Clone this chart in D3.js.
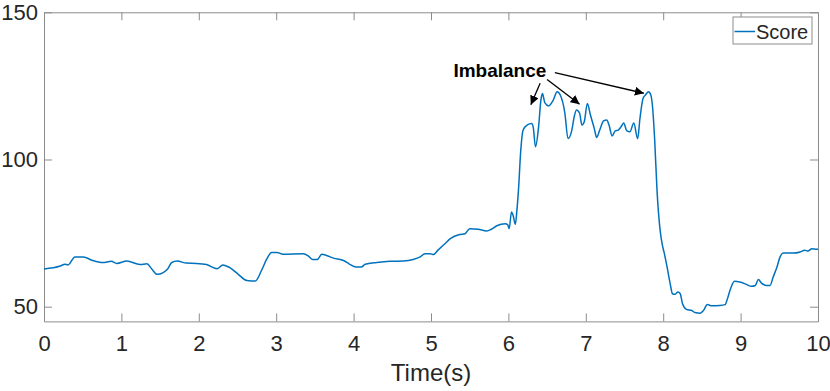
<!DOCTYPE html>
<html>
<head>
<meta charset="utf-8">
<script src="https://cdn.jsdelivr.net/npm/d3@7"></script>
<style>
  html, body { margin: 0; padding: 0; background: #fff; }
  svg { display: block; font-family: "Liberation Sans", Arial, sans-serif; }
</style>
</head>
<body>
<div id="chartDiv"></div>
<script>
// time (s) and score
const time = [0, 0.21, 0.27, 0.31, 0.40, 0.51, 0.62, 0.76, 0.87, 0.94, 1.07, 1.24, 1.33, 1.39, 1.46, 1.54, 1.60, 1.65, 1.72, 1.84,
  1.97, 2.10, 2.24, 2.31, 2.40, 2.51, 2.62, 2.73, 2.81, 2.88, 2.94, 3.01, 3.09, 3.35, 3.42, 3.47, 3.53, 3.59, 3.65, 3.74,
  3.87, 3.95, 4.03, 4.10, 4.15, 4.30, 4.47, 4.64, 4.77, 4.86, 4.92, 4.99, 5.03, 5.09, 5.18, 5.25, 5.37, 5.44, 5.50, 5.61,
  5.72, 5.78, 5.85, 5.96, 5.99, 6.01, 6.04, 6.06, 6.09, 6.11, 6.13, 6.16, 6.19, 6.24, 6.30, 6.32, 6.35, 6.39, 6.42, 6.44,
  6.47, 6.52, 6.58, 6.63, 6.67, 6.73, 6.77, 6.82, 6.85, 6.88, 6.92, 6.95, 6.98, 7.02, 7.06, 7.11, 7.14, 7.18, 7.23, 7.27,
  7.30, 7.34, 7.38, 7.42, 7.46, 7.49, 7.53, 7.57, 7.62, 7.67, 7.70, 7.74, 7.77, 7.81, 7.84, 7.86, 7.89, 7.92, 7.96, 7.99,
  8.01, 8.05, 8.09, 8.12, 8.15, 8.19, 8.22, 8.25, 8.30, 8.37, 8.41, 8.48, 8.52, 8.57, 8.63, 8.73, 8.80, 8.83, 8.87, 8.92,
  8.99, 9.08, 9.14, 9.19, 9.23, 9.27, 9.33, 9.38, 9.42, 9.47, 9.51, 9.55, 9.68, 9.77, 9.83, 9.87, 9.92, 9.98, 10.0];
const score = [62.8, 63.8, 64.4, 64.2, 66.9, 66.9, 65.8, 65.0, 65.4, 64.7, 65.5, 64.3, 64.6, 62.9, 61.0, 61.6, 62.9, 65.0, 65.5, 64.8,
  64.7, 64.3, 62.9, 64.2, 63.3, 61.0, 58.9, 58.7, 62.3, 66.3, 68.4, 68.4, 67.8, 68.0, 67.1, 66.0, 66.0, 67.8, 67.4, 66.5,
  65.7, 64.4, 63.5, 63.5, 64.4, 65.0, 65.4, 65.5, 66.0, 66.9, 68.0, 68.0, 67.7, 69.2, 71.4, 73.1, 74.5, 74.8, 76.5, 76.3,
  75.7, 76.3, 77.5, 78.2, 77.9, 76.5, 82.2, 81.1, 78.0, 82.8, 89.6, 103.2, 110.0, 111.7, 112.2, 111.1, 104.3, 111.1, 120.2, 122.4,
  119.3, 118.2, 120.2, 123.0, 121.9, 115.7, 107.1, 110.0, 114.5, 116.8, 115.7, 111.7, 112.8, 119.0, 115.1, 110.5, 107.5, 110.0, 113.1, 113.4,
  111.7, 108.0, 109.7, 110.0, 111.3, 112.4, 109.7, 109.4, 112.4, 107.1, 114.0, 120.8, 121.9, 123.0, 121.9, 118.5, 106.6, 89.6, 76.0, 70.8,
  68.6, 63.5, 57.8, 54.4, 54.2, 55.0, 54.4, 51.0, 49.1, 48.7, 48.0, 47.8, 48.7, 50.7, 50.3, 50.4, 50.7, 52.7, 56.1, 58.6,
  58.4, 57.5, 56.9, 57.2, 59.2, 58.0, 57.2, 57.2, 60.0, 63.5, 66.9, 68.2, 68.2, 68.6, 69.2, 68.9, 69.7, 69.5, 69.5];

const xTicks = [0, 1, 2, 3, 4, 5, 6, 7, 8, 9, 10];
const yTicks = [50, 100, 150];
const xDomain = [0, 10];
const yDomain = [45, 150];

// annotation: label anchor and arrow [tail, tip] in data units
const noteLabel = "Imbalance";
const noteAt = [5.89, 128.1];
const noteArrows = [
  [[6.41, 125.9], [6.29, 118.6]],
  [[6.50, 127.2], [6.92, 118.8]],
  [[6.60, 129.5], [7.75, 122.5]]
];

const W = 830, H = 391;
const margin = {left: 44, right: 12, top: 12.3, bottom: 69.6};
const lineColor = "#0072BD";
const axisColor = "#8c8c8c";
const textColor = "#262626";

const svg = d3.select("#chartDiv").append("svg")
    .attr("width", W)
    .attr("height", H);

const x = d3.scaleLinear().domain(xDomain).range([margin.left, W - margin.right]);
const y = d3.scaleLinear().domain(yDomain).range([H - margin.bottom, margin.top]);

const x0 = x.range()[0], x1 = x.range()[1];
const y0 = y.range()[0], y1 = y.range()[1];
const tickLen = 8;

// axes: bottom + left with labels, top + right ticks only (box)
const axBottom = svg.append("g")
    .attr("transform", `translate(0,${y0})`)
    .call(d3.axisBottom(x).tickValues(xTicks).tickSizeInner(-tickLen).tickSizeOuter(0).tickPadding(14));
const axLeft = svg.append("g")
    .attr("transform", `translate(${x0},0)`)
    .call(d3.axisLeft(y).tickValues(yTicks).tickSizeInner(-tickLen).tickSizeOuter(0).tickPadding(6));
const axTop = svg.append("g")
    .attr("transform", `translate(0,${y1})`)
    .call(d3.axisTop(x).tickValues(xTicks).tickSizeInner(-tickLen).tickSizeOuter(0).tickFormat(""));
const axRight = svg.append("g")
    .attr("transform", `translate(${x1},0)`)
    .call(d3.axisRight(y).tickValues(yTicks).tickSizeInner(-tickLen).tickSizeOuter(0).tickFormat(""));

[axBottom, axLeft, axTop, axRight].forEach(g => {
  g.select(".domain").attr("stroke", axisColor).attr("stroke-width", 1);
  g.selectAll(".tick line").attr("stroke", axisColor).attr("stroke-width", 1);
  g.selectAll(".tick text")
      .attr("fill", textColor)
      .style("font-size", "22px")
      .style("font-family", "'Liberation Sans', Arial, sans-serif");
});

svg.append("text")
    .attr("x", (x0 + x1) / 2)
    .attr("y", 381)
    .attr("text-anchor", "middle")
    .attr("fill", textColor)
    .style("font-size", "24px")
    .text("Time(s)");

// the score line
const line = d3.line()
    .x((d, i) => x(time[i]))
    .y(d => y(d))
    .curve(d3.curveMonotoneX);

svg.append("path")
    .datum(score)
    .attr("fill", "none")
    .attr("stroke", lineColor)
    .attr("stroke-width", 1.5)
    .attr("stroke-linejoin", "round")
    .attr("d", line);

// annotation
svg.append("defs").append("marker")
    .attr("id", "head")
    .attr("viewBox", "0 0 10 10")
    .attr("refX", 10).attr("refY", 5)
    .attr("markerWidth", 9).attr("markerHeight", 9)
    .attr("markerUnits", "userSpaceOnUse")
    .attr("orient", "auto")
  .append("path")
    .attr("d", "M0,0 L10,5 L0,10 z")
    .attr("fill", "#000");

svg.append("g").selectAll("line")
  .data(noteArrows)
  .join("line")
    .attr("x1", d => x(d[0][0])).attr("y1", d => y(d[0][1]))
    .attr("x2", d => x(d[1][0])).attr("y2", d => y(d[1][1]))
    .attr("stroke", "#000")
    .attr("stroke-width", 1.3)
    .attr("marker-end", "url(#head)");

svg.append("text")
    .attr("x", x(noteAt[0]))
    .attr("y", y(noteAt[1]))
    .attr("text-anchor", "middle")
    .attr("font-weight", "bold")
    .attr("fill", "#000")
    .style("font-size", "19px")
    .text(noteLabel);

// legend
const legend = svg.append("g").attr("transform", "translate(733,17)");
legend.append("rect")
    .attr("width", 79).attr("height", 27)
    .attr("fill", "#fff")
    .attr("stroke", axisColor)
    .attr("stroke-width", 1);
legend.append("line")
    .attr("x1", 1.5).attr("x2", 22)
    .attr("y1", 14.5).attr("y2", 14.5)
    .attr("stroke", lineColor)
    .attr("stroke-width", 1.5);
legend.append("text")
    .attr("x", 23).attr("y", 21.5)
    .attr("fill", textColor)
    .style("font-size", "20px")
    .text("Score");
</script>
</body>
</html>
